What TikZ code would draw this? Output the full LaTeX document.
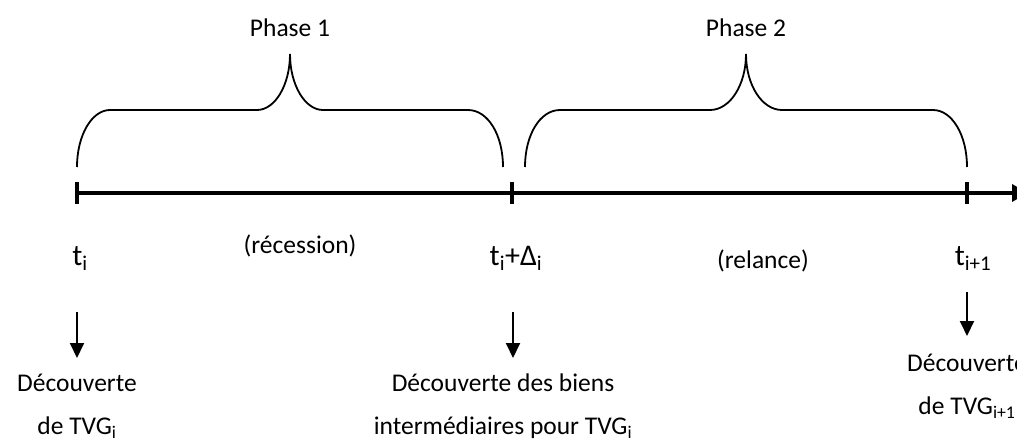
\documentclass[tikz,border=0pt]{standalone}
\usepackage{fontspec}
\setmainfont{Carlito}
\usetikzlibrary{arrows.meta}
\begin{document}
\begin{tikzpicture}[x=1pt,y=-1pt,
  lbl/.style={font=\fontsize{25.5}{43}\selectfont, align=center, inner sep=0pt},
  tlbl/.style={font=\fontsize{30}{36}\selectfont, inner sep=0pt},
  brace/.style={line width=1.8pt},
  tick/.style={line width=4pt},
  darrow/.style={line width=2pt, -{Triangle[width=14pt,length=15pt]}},
  axis/.style={line width=3.5pt, -{Triangle[width=17pt,length=16pt]}}]
\useasboundingbox (0,0) rectangle (1017,439);
% axis
\coordinate (a0) at (77,193);
\coordinate (a1) at (512,193);
\coordinate (a2) at (967,193);
\coordinate (aend) at (1028,193);
\draw[axis] (a0) -- (aend);
\draw[tick] (77,182) -- (77,204);
\draw[tick] (512,182) -- (512,204);
\draw[tick] (967,182) -- (967,204);
% braces
\draw[brace] (77,167) .. controls (77,135) and (92,110) .. (110,110) -- (257,110)
  .. controls (275,110) and (290,85) .. (290,54)
  .. controls (290,85) and (305,110) .. (323,110) -- (468,110)
  .. controls (488,110) and (503,135) .. (503,167);
\draw[brace] (525,167) .. controls (525,135) and (540,110) .. (560,110) -- (710,110)
  .. controls (730,110) and (746,85) .. (746,54)
  .. controls (746,85) and (762,110) .. (782,110) -- (933,110)
  .. controls (952,110) and (967,135) .. (967,167);
% phase labels
\node[lbl, anchor=base] (ph1) at (290,36) {Phase 1};
\node[lbl, anchor=base] (ph2) at (746,36) {Phase 2};
% time labels
\node[tlbl, anchor=base] (t0) at (80,265) {t\textsubscript{i}};
\node[tlbl, anchor=base] (t1) at (516,265) {t\textsubscript{i}+Δ\textsubscript{i}};
\node[tlbl, anchor=base] (t2) at (973,265) {t\textsubscript{i+1}};
\node[lbl, anchor=base] (rec) at (300,253) {(récession)};
\node[lbl, anchor=base] (rel) at (763,268) {(relance)};
% discovery labels
\coordinate (s0) at (77,312);
\coordinate (e0) at (77,358);
\coordinate (s1) at (513,312);
\coordinate (e1) at (513,358);
\coordinate (s2) at (967,292);
\coordinate (e2) at (967,336);
\draw[darrow] (s0) -- (e0);
\draw[darrow] (s1) -- (e1);
\draw[darrow] (s2) -- (e2);
\node[lbl] (d0) at (77,406) {Découverte\\de TVG\textsubscript{i}};
\node[lbl] (d1) at (503,406) {Découverte des biens\\intermédiaires pour TVG\textsubscript{i}};
\node[lbl] (d2) at (967,386) {Découverte\\de TVG\textsubscript{i+1}};
\end{tikzpicture}
\end{document}
